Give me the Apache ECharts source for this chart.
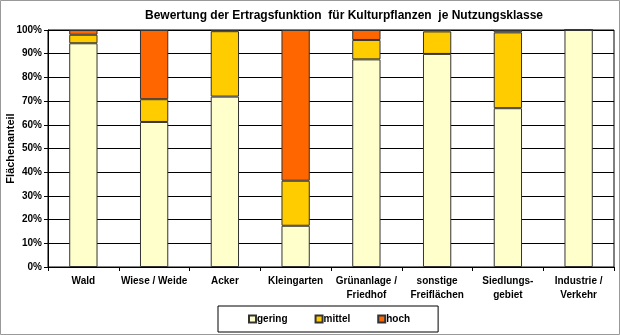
<!DOCTYPE html>
<html>
<head>
<meta charset="utf-8">
<script src="https://cdn.jsdelivr.net/npm/echarts@6/dist/echarts.min.js"></script>
<style>
  html, body { margin: 0; padding: 0; background: #fff; }
  #chart { width: 620px; height: 335px; }
</style>
</head>
<body>
<div id="chart"></div>
<script>
// Nutzungsklassen
const categories = [
  "Wald",
  "Wiese / Weide",
  "Acker",
  "Kleingarten",
  "Grünanlage /\nFriedhof",
  "sonstige\nFreiflächen",
  "Siedlungs-\ngebiet",
  "Industrie /\nVerkehr",
];
// Flächenanteile in %
const gering = [94.4, 61.2, 71.9, 17.4, 87.6, 89.9, 67.0, 100];
const mittel = [3.6, 9.6, 27.6, 19.0, 8.2, 9.5, 32.0, 0];
const hoch = [2.0, 29.2, 0.5, 63.6, 4.2, 0.6, 1.0, 0];

const font = "Liberation Sans, Arial, sans-serif";

function bar(name, data, color) {
  return {
    name: name,
    type: "bar",
    stack: "total",
    barWidth: "40%",
    data: data,
    itemStyle: {
      color: color,
      borderColor: "#333",
      borderWidth: 1,
    },
  };
}

const chart = echarts.init(document.getElementById("chart"));
chart.setOption({
  animation: false,
  textStyle: { fontFamily: font },
  title: {
    text: "Bewertung der Ertragsfunktion  für Kulturpflanzen  je Nutzungsklasse",
    left: 140,
    top: 5,
    textStyle: { fontSize: 12, fontWeight: "bold", color: "#000", fontFamily: font },
  },
  legend: {
    data: ["gering", "mittel", "hoch"],
    left: 218,
    top: 306,
    padding: [8, 28, 8, 30],
    itemGap: 27,
    itemWidth: 7,
    itemHeight: 7,
    icon: "rect",
    borderColor: "#000",
    borderWidth: 1,
    textStyle: { fontSize: 10, fontWeight: "bold", color: "#000", padding: [0, 0, 0, -4] },
  },
  grid: {
    left: 48,
    right: 6,
    top: 30,
    bottom: 68,
    outerBoundsMode: "none",
    show: true,
    borderColor: "#000",
    borderWidth: 1,
  },
  xAxis: {
    type: "category",
    data: categories,
    axisLine: { lineStyle: { color: "#000" } },
    axisTick: { show: true, length: 4, lineStyle: { color: "#000" } },
    axisLabel: {
      interval: 0,
      fontSize: 10,
      fontWeight: "bold",
      color: "#000",
      lineHeight: 14,
      margin: 7,
    },
  },
  yAxis: {
    type: "value",
    min: 0,
    max: 100,
    interval: 10,
    name: "Flächenanteil",
    nameLocation: "middle",
    nameGap: 32,
    nameMoveOverlap: false,
    nameTextStyle: { fontSize: 11, fontWeight: "bold", color: "#000" },
    axisLine: { show: true, lineStyle: { color: "#000" } },
    axisTick: { show: true, length: 4, lineStyle: { color: "#000" } },
    splitLine: { lineStyle: { color: "#000" } },
    axisLabel: {
      formatter: "{value}%",
      fontSize: 10,
      fontWeight: "bold",
      color: "#000",
      margin: 6,
    },
  },
  series: [
    bar("gering", gering, "#FFFFCC"),
    bar("mittel", mittel, "#FFCC00"),
    bar("hoch", hoch, "#FF6600"),
  ],
  graphic: [
    {
      type: "rect",
      shape: { x: 0.5, y: 0.5, width: 619, height: 334 },
      style: { fill: "none", stroke: "#999", lineWidth: 1 },
      silent: true,
    },
  ],
});
</script>
</body>
</html>
